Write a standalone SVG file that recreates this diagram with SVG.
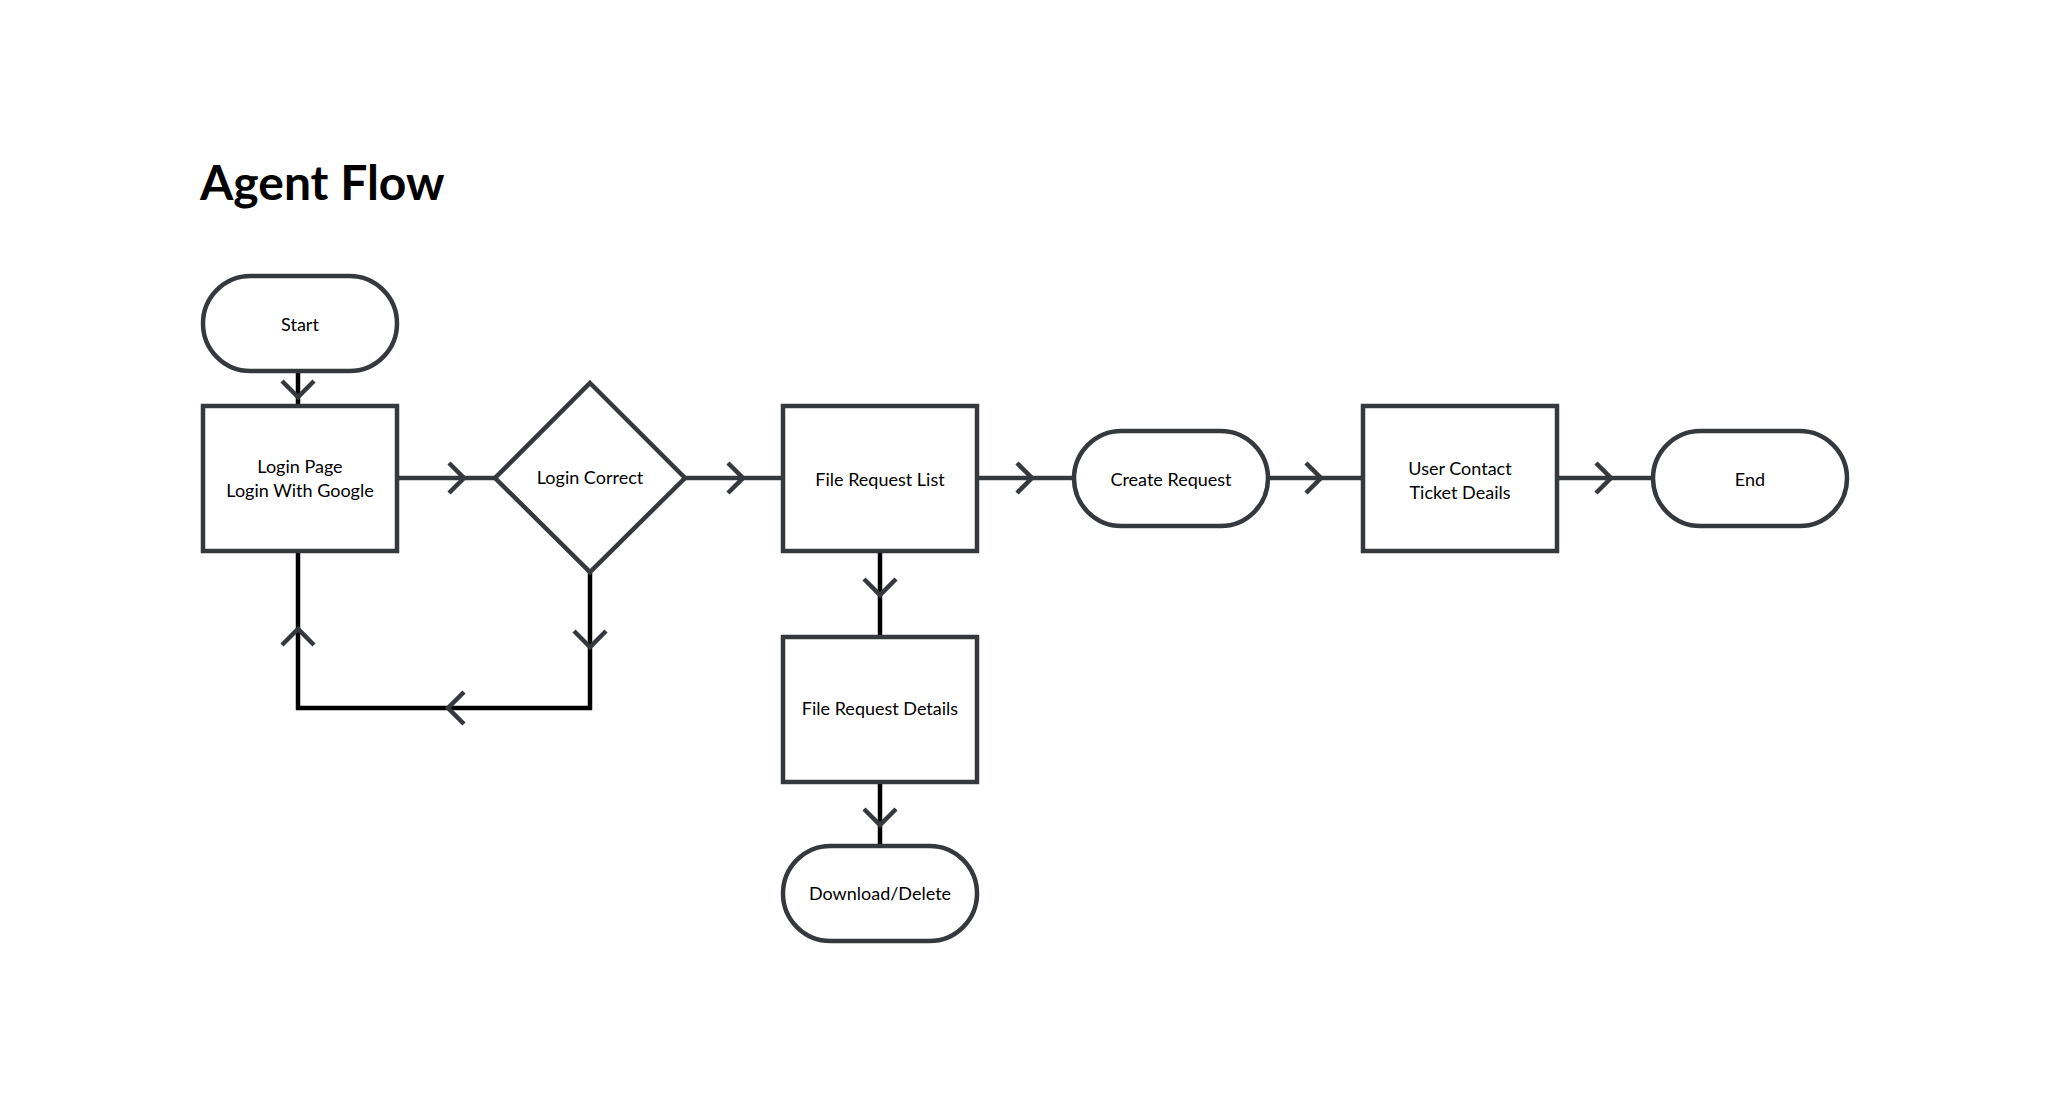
<svg xmlns="http://www.w3.org/2000/svg" width="2051" height="1095" viewBox="0 0 2051 1095">
<style>
.bg{fill:#ffffff}
.node{fill:#ffffff;stroke:#35383c;stroke-width:4.5}
.line{fill:none;stroke:#000000;stroke-width:4.5}
.hline{fill:none;stroke:#35383c;stroke-width:4.5}
.chev{fill:none;stroke:#35383c;stroke-width:4.5;stroke-linejoin:miter}
.lbl{font-family:Lato,"Open Sans","Liberation Sans",sans-serif;font-size:18px;fill:#000000;text-anchor:middle}
.title{font-family:Lato,"Liberation Sans",sans-serif;font-size:48px;font-weight:700;fill:#000000}
</style>
<rect class="bg" x="0" y="0" width="2051" height="1095"/>
<text class="title" x="200" y="200">Agent Flow</text>
<g id="connectors">
  <line class="line" x1="298" y1="371" x2="298" y2="406"/>
  <polyline class="chev" points="282,381 298,397 314,381"/>
  <line class="hline" x1="397" y1="478" x2="495" y2="478"/>
  <polyline class="chev" points="449,463 464,478 449,493"/>
  <line class="hline" x1="685" y1="478" x2="783" y2="478"/>
  <polyline class="chev" points="728,463 743,478 728,493"/>
  <line class="hline" x1="977" y1="478" x2="1074" y2="478"/>
  <polyline class="chev" points="1017,463 1032,478 1017,493"/>
  <line class="hline" x1="1268" y1="478" x2="1363" y2="478"/>
  <polyline class="chev" points="1306,463 1321,478 1306,493"/>
  <line class="hline" x1="1557" y1="478" x2="1653" y2="478"/>
  <polyline class="chev" points="1596,463 1611,478 1596,493"/>
  <line class="line" x1="880" y1="551" x2="880" y2="637"/>
  <polyline class="chev" points="864,579 880,595 896,579"/>
  <line class="line" x1="880" y1="782" x2="880" y2="846"/>
  <polyline class="chev" points="864,809 880,825 896,809"/>
  <polyline class="line" points="590,572 590,708 298,708 298,551"/>
  <polyline class="chev" points="574,631 590,647 606,631"/>
  <polyline class="chev" points="464,692 448,708 464,724"/>
  <polyline class="chev" points="282,645 298,629 314,645"/>
</g>
<g id="start">
  <rect class="node" x="203" y="276" width="194" height="95" rx="47.5"/>
  <text class="lbl" x="300" y="331">Start</text>
</g>
<g id="login">
  <rect class="node" x="203" y="406" width="194" height="145"/>
  <text class="lbl" x="300" y="473">Login Page</text>
  <text class="lbl" x="300" y="497">Login With Google</text>
</g>
<g id="login-correct">
  <polygon class="node" points="590,383 685,478 590,572 495,478"/>
  <text class="lbl" x="590" y="484">Login Correct</text>
</g>
<g id="file-request-list">
  <rect class="node" x="783" y="406" width="194" height="145"/>
  <text class="lbl" x="880" y="486">File Request List</text>
</g>
<g id="create-request">
  <rect class="node" x="1074" y="431" width="194" height="95" rx="47.5"/>
  <text class="lbl" x="1171" y="486">Create Request</text>
</g>
<g id="user-contact">
  <rect class="node" x="1363" y="406" width="194" height="145"/>
  <text class="lbl" x="1460" y="475">User Contact</text>
  <text class="lbl" x="1460" y="499">Ticket Deails</text>
</g>
<g id="end">
  <rect class="node" x="1653" y="431" width="194" height="95" rx="47.5"/>
  <text class="lbl" x="1750" y="486">End</text>
</g>
<g id="file-request-details">
  <rect class="node" x="783" y="637" width="194" height="145"/>
  <text class="lbl" x="880" y="715">File Request Details</text>
</g>
<g id="download-delete">
  <rect class="node" x="783" y="846" width="194" height="95" rx="47.5"/>
  <text class="lbl" x="880" y="900">Download/Delete</text>
</g>
</svg>
